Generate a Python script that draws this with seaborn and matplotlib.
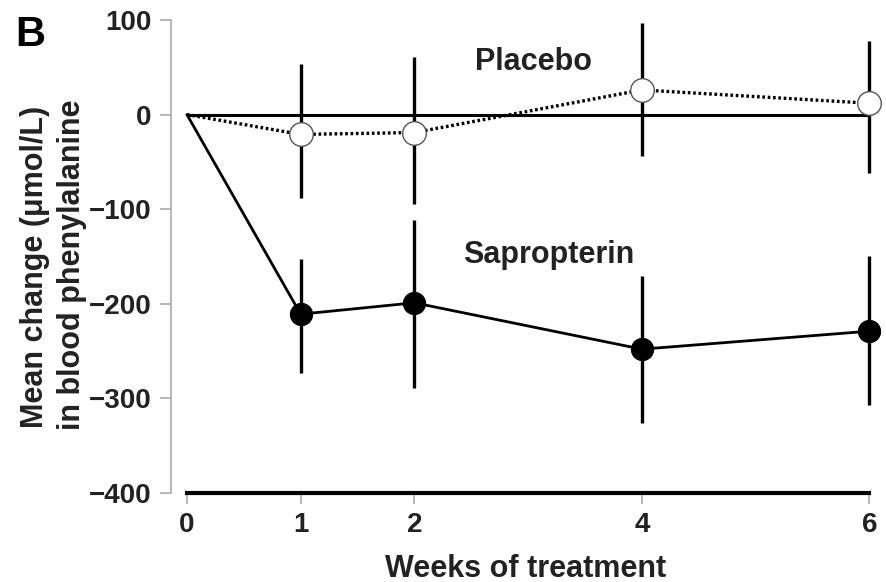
import numpy as np
import matplotlib
matplotlib.use("Agg")
import matplotlib.pyplot as plt
import seaborn as sns

# data
weeks = [0, 1, 2, 4, 6]
placebo_mean = [0, -21, -19, 26, 12]
placebo_lo = [0, -88, -95, -44, -62]
placebo_hi = [0, 53, 61, 97, 78]
sapro_mean = [0, -211, -199, -248, -229]
sapro_lo = [0, -273, -289, -326, -307]
sapro_hi = [0, -153, -111, -171, -150]
xticks = [0, 1, 2, 4, 6]
yticks = [100, 0, -100, -200, -300, -400]
ytick_labels = ['100', '0', '\u2212100', '\u2212200', '\u2212300', '\u2212400']

sns.set_style("ticks")
plt.rcParams['font.family'] = ['Liberation Sans', 'DejaVu Sans']
plt.rcParams['font.weight'] = 'bold'

fig = plt.figure(figsize=(8.86, 5.82), dpi=100)
ax = fig.add_axes([0.193, 0.153, 0.801, 0.8127])

# zero reference line
ax.hlines(0, 0, 6, color='black', lw=2.2, zorder=1)

# error bars (no caps)
w = np.array(weeks[1:])
ax.vlines(w, np.array(placebo_lo[1:]), np.array(placebo_hi[1:]), color='black', lw=2.4, zorder=2)
ax.vlines(w, np.array(sapro_lo[1:]), np.array(sapro_hi[1:]), color='black', lw=2.4, zorder=2)

# lines + markers
sns.lineplot(x=weeks, y=sapro_mean, ax=ax, color='black', lw=2.0, marker='o',
             markevery=[1, 2, 3, 4], markersize=16, markerfacecolor='black',
             markeredgecolor='black', zorder=4, clip_on=False)
sns.lineplot(x=weeks, y=placebo_mean, ax=ax, color='black', lw=2.4,
             linestyle=(0, (0.8, 0.8)), marker='o', markevery=[1, 2, 3, 4],
             markersize=17, markerfacecolor='white', markeredgecolor='#555555',
             markeredgewidth=1.0, zorder=4, clip_on=False)

ax.text(3.05, 56, "Placebo", ha='center', va='center', fontsize=22, fontweight='bold', color='#222222')
ax.text(3.18, -148, "Sapropterin", ha='center', va='center', fontsize=22, fontweight='bold', color='#222222')

ax.set_xlim(-0.14, 6.1)
ax.set_ylim(-400, 100)
ax.set_xticks(xticks)
ax.set_yticks(yticks)
ax.set_yticklabels(ytick_labels)

sns.despine(ax=ax)
ax.spines['bottom'].set_position(('data', -400))
ax.spines['bottom'].set_bounds(0, 6)
ax.spines['bottom'].set_linewidth(3)
ax.spines['bottom'].set_color('black')
ax.spines['left'].set_bounds(-400, 100)
ax.spines['left'].set_linewidth(1.2)
ax.spines['left'].set_color('#aaaaaa')
ax.tick_params(axis='both', colors='#aaaaaa', labelcolor='#222222', labelsize=20,
               length=8, width=1.2, pad=6)
for lab in ax.get_xticklabels() + ax.get_yticklabels():
    lab.set_fontweight('bold')

ax.set_xlabel("Weeks of treatment", fontsize=22, fontweight='bold', color='#222222', labelpad=11)

# two-line y label placed in figure coords
fig.text(35 / 886, 1 - 267 / 582, "Mean change (\u03bcmol/L)", rotation=90, fontsize=22,
         fontweight='bold', color='#222222', ha='center', va='center')
fig.text(72 / 886, 1 - 265 / 582, "in blood phenylalanine", rotation=90, fontsize=22,
         fontweight='bold', color='#222222', ha='center', va='center')

fig.text(0.034, 0.94, "B", fontsize=30, fontweight='bold', ha='center', va='center', color='black')

fig.savefig("out.png", dpi=100)
